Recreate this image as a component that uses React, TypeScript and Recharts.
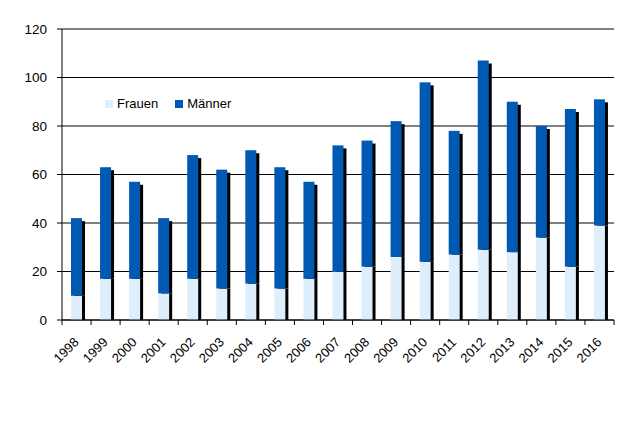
import React from "react";
import { BarChart, Bar, XAxis, YAxis, CartesianGrid } from "recharts";

const years = ["1998","1999","2000","2001","2002","2003","2004","2005","2006","2007","2008","2009","2010","2011","2012","2013","2014","2015","2016"];
const frauen = [10,17,17,11,17,13,15,13,17,20,22,26,24,27,29,28,34,22,39];
const gesamt = [42,63,57,42,68,62,70,63,57,72,74,82,98,78,107,90,80,87,91];
const maenner = gesamt.map((g, i) => g - frauen[i]);
const yTicks = [0,20,40,60,80,100,120];

const data = years.map((y, i) => ({ year: y, Frauen: frauen[i], Männer: maenner[i] }));

const C_F = "#DEEEFB";
const C_M = "#0059B3";
const FONT = "'Liberation Sans', Arial, sans-serif";

const FrauenShape = (props: any) => {
  const { x, y, width, height, fill } = props;
  if (!height) return null;
  return (
    <g>
      <rect x={x + 3} y={y} width={width} height={height} fill="#000" />
      <rect x={x} y={y} width={width} height={height} fill={fill} />
    </g>
  );
};

const MaennerShape = (props: any) => {
  const { x, y, width, height, fill } = props;
  if (!height) return null;
  return (
    <g>
      <rect x={x + 3} y={y + 3} width={width} height={Math.max(0, height - 3)} fill="#000" />
      <rect x={x} y={y} width={width} height={height} fill={fill} />
    </g>
  );
};

const XTick = (props: any) => {
  const { x, y, payload, index } = props;
  const off = payload && payload.offset ? payload.offset : 14.5;
  const last = index === years.length - 1;
  const ax = x + 3;
  const ay = y + 18;
  return (
    <g>
      <line x1={x - off} y1={y - 5} x2={x - off} y2={y} stroke="#000" />
      {last && <line x1={x + off} y1={y - 5} x2={x + off} y2={y} stroke="#000" />}
      <text
        x={ax}
        y={ay}
        textAnchor="end"
        fontSize={13}
        fontFamily={FONT}
        fill="#000"
        transform={`rotate(-45 ${ax} ${ay})`}
      >
        {payload.value}
      </text>
    </g>
  );
};

export default function App() {
  return (
    <div style={{ position: "absolute", left: 0, top: 0, width: 628, height: 423, background: "#fff" }}>
      <BarChart width={628} height={423} data={data} margin={{ top: 29, right: 14, left: 0, bottom: 43 }} barSize={11}>
        <CartesianGrid vertical={false} stroke="#000" strokeWidth={1} />
        <XAxis
          dataKey="year"
          interval={0}
          height={60}
          axisLine={{ stroke: "#000" }}
          tickLine={false}
          tickSize={5}
          tickMargin={0}
          tick={<XTick />}
        />
        <YAxis
          width={62}
          domain={[0, 120]}
          ticks={yTicks}
          interval={0}
          axisLine={{ stroke: "#000" }}
          tickLine={{ stroke: "#000" }}
          tickSize={5}
          tickMargin={10}
          tick={{ fill: "#000", fontSize: 13.5, fontFamily: FONT }}
        />
        <Bar dataKey="Frauen" stackId="a" fill={C_F} shape={<FrauenShape />} isAnimationActive={false} />
        <Bar dataKey="Männer" stackId="a" fill={C_M} shape={<MaennerShape />} isAnimationActive={false} />
      </BarChart>
      <div
        style={{
          position: "absolute",
          left: 105,
          top: 96,
          display: "flex",
          alignItems: "center",
          fontFamily: FONT,
          fontSize: 13,
          color: "#000",
          lineHeight: "16px",
        }}
      >
        <span style={{ display: "inline-block", width: 8, height: 8, background: C_F, marginRight: 4 }} />
        <span style={{ marginRight: 17 }}>Frauen</span>
        <span style={{ display: "inline-block", width: 8, height: 8, background: C_M, marginRight: 4 }} />
        <span>Männer</span>
      </div>
    </div>
  );
}
